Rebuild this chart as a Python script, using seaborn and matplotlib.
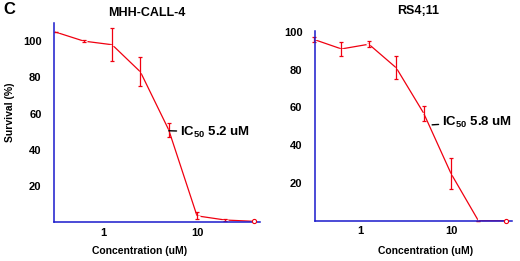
import matplotlib
matplotlib.use("Agg")
import matplotlib.pyplot as plt
import seaborn as sns
import numpy as np
import pandas as pd

sns.set_theme(style="white")
plt.rcParams['font.family'] = ['Liberation Sans', 'DejaVu Sans']
plt.rcParams['font.weight'] = 'bold'
plt.rcParams['text.color'] = 'black'
plt.rcParams['axes.labelcolor'] = 'black'
plt.rcParams['mathtext.fontset'] = 'custom'
plt.rcParams['mathtext.rm'] = 'Liberation Sans:bold'
plt.rcParams['mathtext.bf'] = 'Liberation Sans:bold'

# Data
concentration = [0.3125, 0.625, 1.25, 2.5, 5, 10, 20, 40]
mhh_survival = [105, 100, 98, 83, 51, 3.5, 1.2, 0.5]
mhh_err = [0, 0.5, 9, 8, 4, 2, 0.5, 0]
rs4_survival = [96, 91, 93.5, 81, 57, 25, 0, 0]
rs4_err = [1.5, 3.5, 1.5, 6, 4, 8, 0, 0]
titles = ["MHH-CALL-4", "RS4;11"]
ic50_labels = [r"$\mathbf{IC_{50}}$ 5.2 uM", r"$\mathbf{IC_{50}}$ 5.8 uM"]
yticks = [20, 40, 60, 80, 100]
xticks = [1, 10]

blue = "#1a1acc"
red = "#f00010"

fig = plt.figure(figsize=(5.2, 2.61), dpi=100)
ax1 = fig.add_axes([54/520, 1-222.2/261, 206/520, 199.2/261])
ax2 = fig.add_axes([315/520, 1-220.75/261, 197/520, 189.75/261])

panels = [
    (ax1, mhh_survival, mhh_err, (0.301, 46.8), (0, 110), (5.0, 50.5), (8, -1)),
    (ax2, rs4_survival, rs4_err, (0.32, 46.8), (0, 100.5), (6.2, 50.8), (7, 2)),
]

for i, (ax, surv, err, xl, yl, ic_xy, off) in enumerate(panels):
    df = pd.DataFrame({"conc": concentration, "surv": surv})
    sns.lineplot(data=df, x="conc", y="surv", ax=ax, color=red, lw=0.9,
                 marker="+", markersize=4, markeredgewidth=0.9, clip_on=False)
    ax.errorbar(concentration, surv, yerr=err, fmt="none", ecolor=red,
                elinewidth=0.9, capsize=1.5, capthick=0.9, clip_on=False)
    ax.plot(concentration[-1:], surv[-1:], linestyle="none", marker="o",
            markersize=3, markerfacecolor="white", markeredgecolor=red,
            markeredgewidth=0.8, clip_on=False, zorder=5)
    ax.set_xscale("log")
    ax.set_xlim(*xl)
    ax.set_ylim(*yl)
    ax.set_xticks(xticks)
    ax.set_xticklabels([str(t) for t in xticks])
    ax.minorticks_off()
    ax.set_yticks(yticks)
    ax.set_yticklabels([str(t) for t in yticks])
    ax.tick_params(axis="both", direction="in", color=blue, length=3, width=1,
                   labelsize=8, labelcolor="black")
    ax.tick_params(axis="y", pad=9)
    ax.tick_params(axis="x", pad=4)
    for lab in ax.get_xticklabels() + ax.get_yticklabels():
        lab.set_fontweight("bold")
    for s in ["top", "right"]:
        ax.spines[s].set_visible(False)
    for s in ["left", "bottom"]:
        ax.spines[s].set_color(blue)
        ax.spines[s].set_linewidth(1.1)
    ax.set_xlabel("")
    ax.set_ylabel("")
    ax.annotate(ic50_labels[i], xy=ic_xy, xytext=off, textcoords="offset points",
                ha="left", va="center", fontsize=9.5, fontweight="bold",
                color="black",
                arrowprops=dict(arrowstyle="-", color="black", lw=1,
                                shrinkA=0, shrinkB=0))
    ax.set_facecolor("white")

fig.text(147/520, 1-13/261, titles[0], ha="center", va="center",
         fontsize=9, fontweight="bold", color="black")
fig.text(418/520, 1-11/261, titles[1], ha="center", va="center",
         fontsize=9, fontweight="bold", color="black")
fig.text(140/520, 1-251/261, "Concentration (uM)", ha="center", va="center",
         fontsize=7.5, fontweight="bold", color="black")
fig.text(426/520, 1-251/261, "Concentration (uM)", ha="center", va="center",
         fontsize=7.5, fontweight="bold", color="black")
fig.text(10/520, 1-112/261, "Survival (%)", ha="center", va="center",
         rotation=90, fontsize=7.5, fontweight="bold", color="black")
fig.text(3/520, 1-10/261, "C", ha="left", va="center", fontsize=12,
         fontweight="bold", color="black")

fig.savefig("out.png", dpi=100, facecolor="white")
